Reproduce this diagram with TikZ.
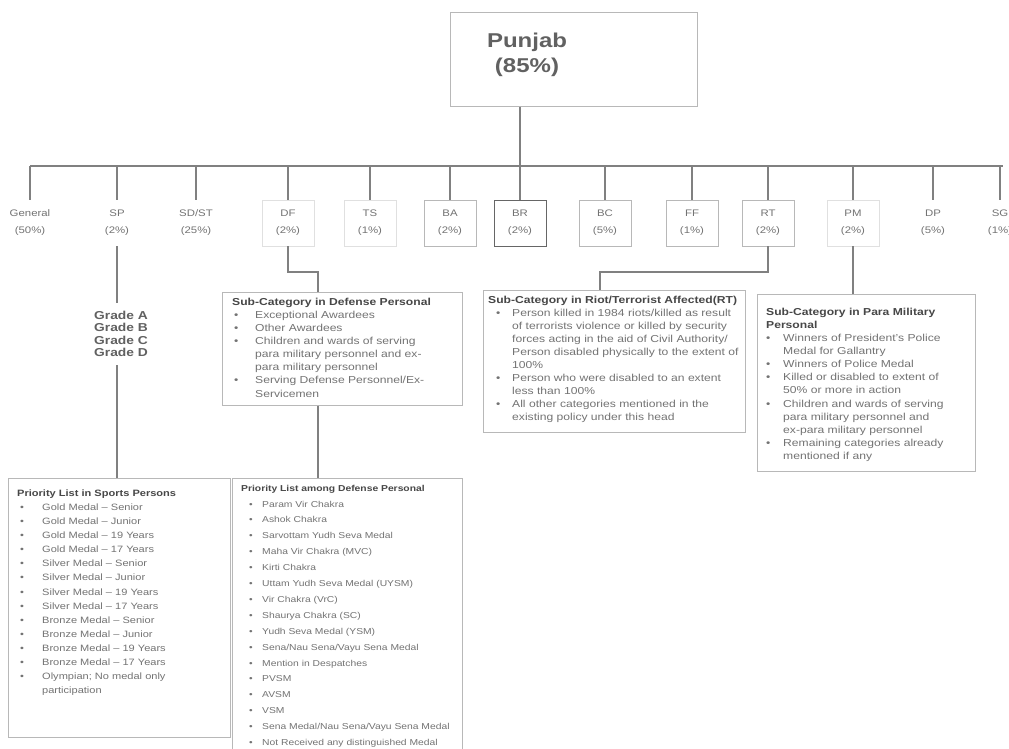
\documentclass[tikz,border=0pt]{standalone}
\usepackage{fontspec}
\setmainfont{Liberation Sans}[FakeStretch=1.2]
\newcommand\phd[1]{\par\noindent{\bfseries\color{black!72}#1}}
\newcommand\pbl[1]{\par\noindent\hbox to \ti{\hspace{\bo}\textbullet\hfil}#1}
\newcommand\pcl[1]{\par\noindent\hspace{\ti}#1}
\begin{document}
\begin{tikzpicture}[x=1pt,y=-1pt,
  ln/.style={draw=black!50, line width=1.2pt},
  catbox/.style={draw=black!28, line width=0.7pt, minimum width=52pt, minimum height=46pt, align=center, text=black!55, font=\fontsize{9.5}{17}\selectfont, inner sep=0pt},
  catfaint/.style={catbox, draw=black!12},
  catnob/.style={catbox, draw=none},
  catdark/.style={catbox, draw=black!60, line width=1pt},
  panel/.style={draw=black!28, line width=0.7pt, anchor=north west, inner sep=0pt},
  txt/.style={anchor=north west, inner sep=0pt, align=left, text width=300pt, text=black!55},
]
\fill[white] (0,0) rectangle (1009,749);
\useasboundingbox (0,0) rectangle (1009,749);

% top box
\node[panel, minimum width=247pt, minimum height=94pt] (punjab) at (450,12) {};
\node[font=\fontsize{20}{25}\selectfont\bfseries, text=black!62, align=center, inner sep=0pt] (punjabtxt) at (527,55) {Punjab\\(85\%)};

\coordinate (busP) at (520,166);
\coordinate (busL) at (30,166);
\coordinate (busR) at (1003,166);
\draw[ln] (punjab.south -| busP) -- (busP);
\draw[ln] (busL) -- (busR);

\foreach \n/\x/\s/\t in {
  gen/30/catnob/{General\\(50\%)},
  sp/117/catnob/{SP\\(2\%)},
  sdst/196/catnob/{SD/ST\\(25\%)},
  df/288/catfaint/{DF\\(2\%)},
  ts/370/catfaint/{TS\\(1\%)},
  ba/450/catbox/{BA\\(2\%)},
  br/520/catdark/{BR\\(2\%)},
  bc/605/catbox/{BC\\(5\%)},
  ff/692/catbox/{FF\\(1\%)},
  rt/768/catbox/{RT\\(2\%)},
  pm/853/catfaint/{PM\\(2\%)},
  dp/933/catnob/{DP\\(5\%)},
  sg/1000/catnob/{SG\\(1\%)}}{
  \node[\s] (\n) at (\x,223) {\t};
  \draw[ln] (\n.north |- busP) -- (\n.north);
}

% Grades
\node[align=left, inner xsep=0pt, inner ysep=8pt, text=black!62, font=\fontsize{11.5}{12.4}\selectfont\bfseries] (grade) at (121,334) {Grade A\\Grade B\\Grade C\\Grade D};

% panels
\node[panel, minimum width=240pt, minimum height=113pt] (defsub) at (222,292) {};
\node[panel, minimum width=262pt, minimum height=142pt] (rtsub) at (483,290) {};
\node[panel, minimum width=218pt, minimum height=177pt] (pmsub) at (757,294) {};
\node[panel, minimum width=222pt, minimum height=259pt] (sports) at (8,478) {};
\node[panel, minimum width=230pt, minimum height=280pt] (defpri) at (232,478) {};

% connectors
\draw[ln] (sp.south) -- (sp.south |- grade.north);
\draw[ln] (grade.south -| sp) -- (sports.north -| sp);
\coordinate (dfk) at (318,272);
\draw[ln] (df.south) |- (dfk) -- (dfk |- defsub.north);
\draw[ln] (defsub.south -| dfk) -- (defpri.north -| dfk);
\coordinate (rtk) at (600,272);
\draw[ln] (rt.south) |- (rtk) -- (rtk |- rtsub.north);
\draw[ln] (pm.south) -- (pm.south |- pmsub.north);

% texts
\node[txt, font=\fontsize{10.1}{13.1}\selectfont] (defsubtxt) at (232,292) {\def\ti{23pt}\def\bo{2pt}%
\phd{Sub-Category in Defense Personal}
\pbl{Exceptional Awardees}
\pbl{Other Awardees}
\pbl{Children and wards of serving}
\pcl{para military personnel and ex-}
\pcl{para military personnel}
\pbl{Serving Defense Personnel/Ex-}
\pcl{Servicemen}};

\node[txt, font=\fontsize{10.1}{13}\selectfont] (rtsubtxt) at (488,290) {\def\ti{24pt}\def\bo{8pt}%
\phd{Sub-Category in Riot/Terrorist Affected(RT)}
\pbl{Person killed in 1984 riots/killed as result}
\pcl{of terrorists violence or killed by security}
\pcl{forces acting in the aid of Civil Authority/}
\pcl{Person disabled physically to the extent of}
\pcl{100\%}
\pbl{Person who were disabled to an extent}
\pcl{less than 100\%}
\pbl{All other categories mentioned in the}
\pcl{existing policy under this head}};

\node[txt, font=\fontsize{10.1}{13.1}\selectfont] (pmsubtxt) at (766,302) {\def\ti{17pt}\def\bo{0pt}%
\phd{Sub-Category in Para Military}
\phd{Personal}
\pbl{Winners of President's Police}
\pcl{Medal for Gallantry}
\pbl{Winners of Police Medal}
\pbl{Killed or disabled to extent of}
\pcl{50\% or more in action}
\pbl{Children and wards of serving}
\pcl{para military personnel and}
\pcl{ex-para military personnel}
\pbl{Remaining categories already}
\pcl{mentioned if any}};

\node[txt, font=\fontsize{9.2}{14.1}\selectfont] (sportstxt) at (17,482) {\def\ti{25pt}\def\bo{3pt}%
\phd{Priority List in Sports Persons}
\pbl{Gold Medal -- Senior}
\pbl{Gold Medal -- Junior}
\pbl{Gold Medal -- 19 Years}
\pbl{Gold Medal -- 17 Years}
\pbl{Silver Medal -- Senior}
\pbl{Silver Medal -- Junior}
\pbl{Silver Medal -- 19 Years}
\pbl{Silver Medal -- 17 Years}
\pbl{Bronze Medal -- Senior}
\pbl{Bronze Medal -- Junior}
\pbl{Bronze Medal -- 19 Years}
\pbl{Bronze Medal -- 17 Years}
\pbl{Olympian; No medal only}
\pcl{participation}};

\node[txt, font=\fontsize{8.6}{15.9}\selectfont] (defpritxt) at (241,475) {\def\ti{21pt}\def\bo{8pt}%
\phd{Priority List among Defense Personal}
\pbl{Param Vir Chakra}
\pbl{Ashok Chakra}
\pbl{Sarvottam Yudh Seva Medal}
\pbl{Maha Vir Chakra (MVC)}
\pbl{Kirti Chakra}
\pbl{Uttam Yudh Seva Medal (UYSM)}
\pbl{Vir Chakra (VrC)}
\pbl{Shaurya Chakra (SC)}
\pbl{Yudh Seva Medal (YSM)}
\pbl{Sena/Nau Sena/Vayu Sena Medal}
\pbl{Mention in Despatches}
\pbl{PVSM}
\pbl{AVSM}
\pbl{VSM}
\pbl{Sena Medal/Nau Sena/Vayu Sena Medal}
\pbl{Not Received any distinguished Medal}};
\end{tikzpicture}
\end{document}
